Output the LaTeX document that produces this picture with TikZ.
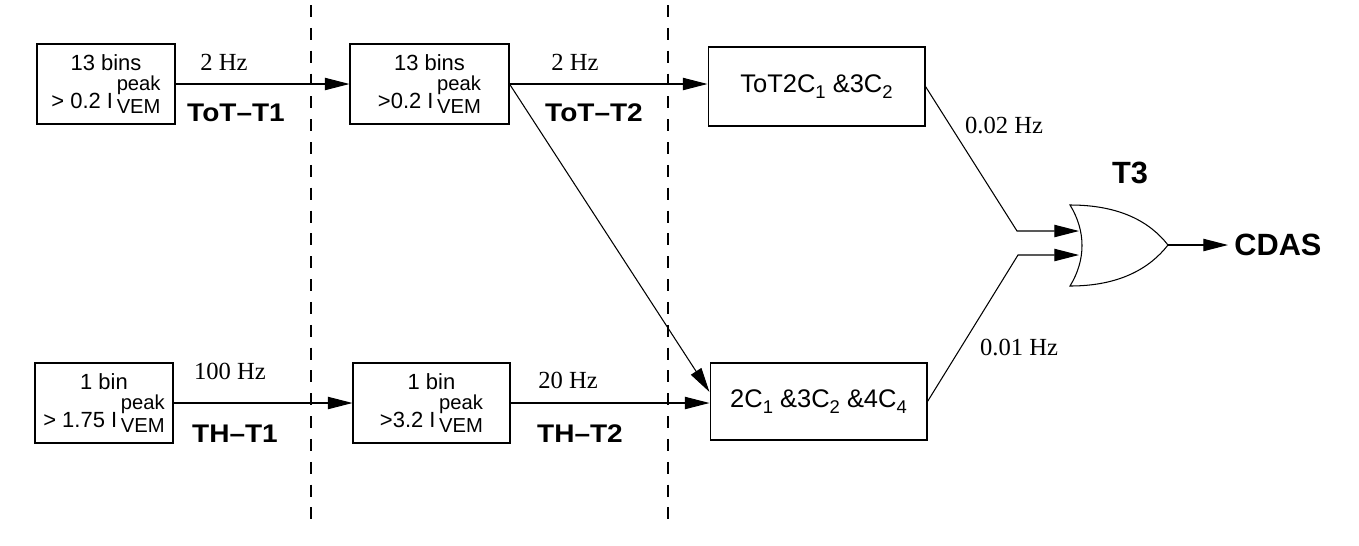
\documentclass[tikz,border=0pt]{standalone}
\usepackage{fontspec}
\setmainfont{Liberation Serif}
\setsansfont{Liberation Sans}
\newfontfamily\lvlfont{Liberation Sans}[FakeStretch=1.1]
\usetikzlibrary{arrows.meta}
\newcommand{\ivem}{I\,\raisebox{-0.23em}{\fontsize{11.5}{12}\selectfont\shortstack[l]{peak\\VEM}}}
\newcommand{\sub}[1]{\raisebox{-0.25em}{\fontsize{10.5}{11}\selectfont#1}}

\begin{document}
\begin{tikzpicture}
  [x=0.02cm,y=-0.02cm,line width=0.6pt,
   every node/.style={font=\sffamily\fontsize{12.5}{15}\selectfont},
   box/.style 2 args={draw,align=center,inner sep=0pt,minimum width=#1,minimum height=#2},
   cond/.style={font=\sffamily\fontsize{14.5}{16}\selectfont},
   rate/.style={font=\rmfamily\fontsize{14}{16}\selectfont},
   lvl/.style={font=\lvlfont\bfseries\fontsize{14.5}{16}\selectfont},
   big/.style={font=\sffamily\bfseries\fontsize{17.5}{20}\selectfont},
   sep/.style={dash pattern=on 6.8pt off 6.2pt},
   >={Triangle[length=14pt,width=7pt]}]
  \useasboundingbox (0,0) rectangle (1359,545);

  \node[box={2.76cm}{1.6cm}] (a) at (106,84)    {13 bins\\[2pt] > 0.2 \ivem};
  \node[box={3.18cm}{1.6cm}] (b) at (429.5,84)  {13 bins\\[2pt] >0.2 \ivem};
  \node[box={4.34cm}{1.58cm},cond] (c) at (816.5,86.5) {ToT2C\sub{1} \&3C\sub{2}};
  \node[box={2.76cm}{1.6cm}] (d) at (104,403)   {1 bin\\[2pt] > 1.75 \ivem};
  \node[box={3.14cm}{1.6cm}] (e) at (431.5,403) {1 bin\\[2pt] >3.2 \ivem};
  \node[box={4.34cm}{1.54cm},cond] (f) at (818.5,401.5) {2C\sub{1} \&3C\sub{2} \&4C\sub{4}};

  % level separators
  \draw[sep] (311,5) -- (311,525);
  \draw[sep] (668,5) -- (668,525);

  % T3 or gate
  \draw (1070,205) .. controls (1120,205) and (1150,222) .. (1168,245)
        .. controls (1150,268) and (1120,286) .. (1070,286)
        .. controls (1086,260) and (1086,231) .. cycle;
  \coordinate (in1) at (1079,231);
  \coordinate (in2) at (1079,255);
  \coordinate (out) at (1168,245);
  \coordinate (k1) at (1017,231);
  \coordinate (k2) at (1018,255);

  \node[rate] (r1) at (224,62)   {2 Hz};
  \node[lvl]  (l1) at (236,113)  {ToT–T1};
  \node[rate] (r2) at (575,62)   {2 Hz};
  \node[lvl]  (l2) at (594,113)  {ToT–T2};
  \node[rate] (r3) at (230,371)  {100 Hz};
  \node[lvl]  (l3) at (235,434)  {TH–T1};
  \node[rate] (r4) at (568,380)  {20 Hz};
  \node[lvl]  (l4) at (580,434)  {TH–T2};
  \node[rate] (r5) at (1004,125) {0.02 Hz};
  \node[rate] (r6) at (1019,347) {0.01 Hz};
  \node[big]  (t3) at (1130,173) {T3};
  \node[big,anchor=west] (cdas) at (1228,245) {CDAS};

  \foreach \from/\to in {a/b,d/e}
    \draw[->] (\from) -- (\to);
  \foreach \from/\to in {b/c,e/f}
    \draw[->] (\from.east) -- (\from.east -| \to.west);
  \draw[->] (b.east) -- (f.175);
  \draw[->] (c.east) -- (k1) -- (in1);
  \draw[->] (f.east) -- (k2) -- (in2);
  \draw[->] (out) -- (cdas);

\end{tikzpicture}
\end{document}
